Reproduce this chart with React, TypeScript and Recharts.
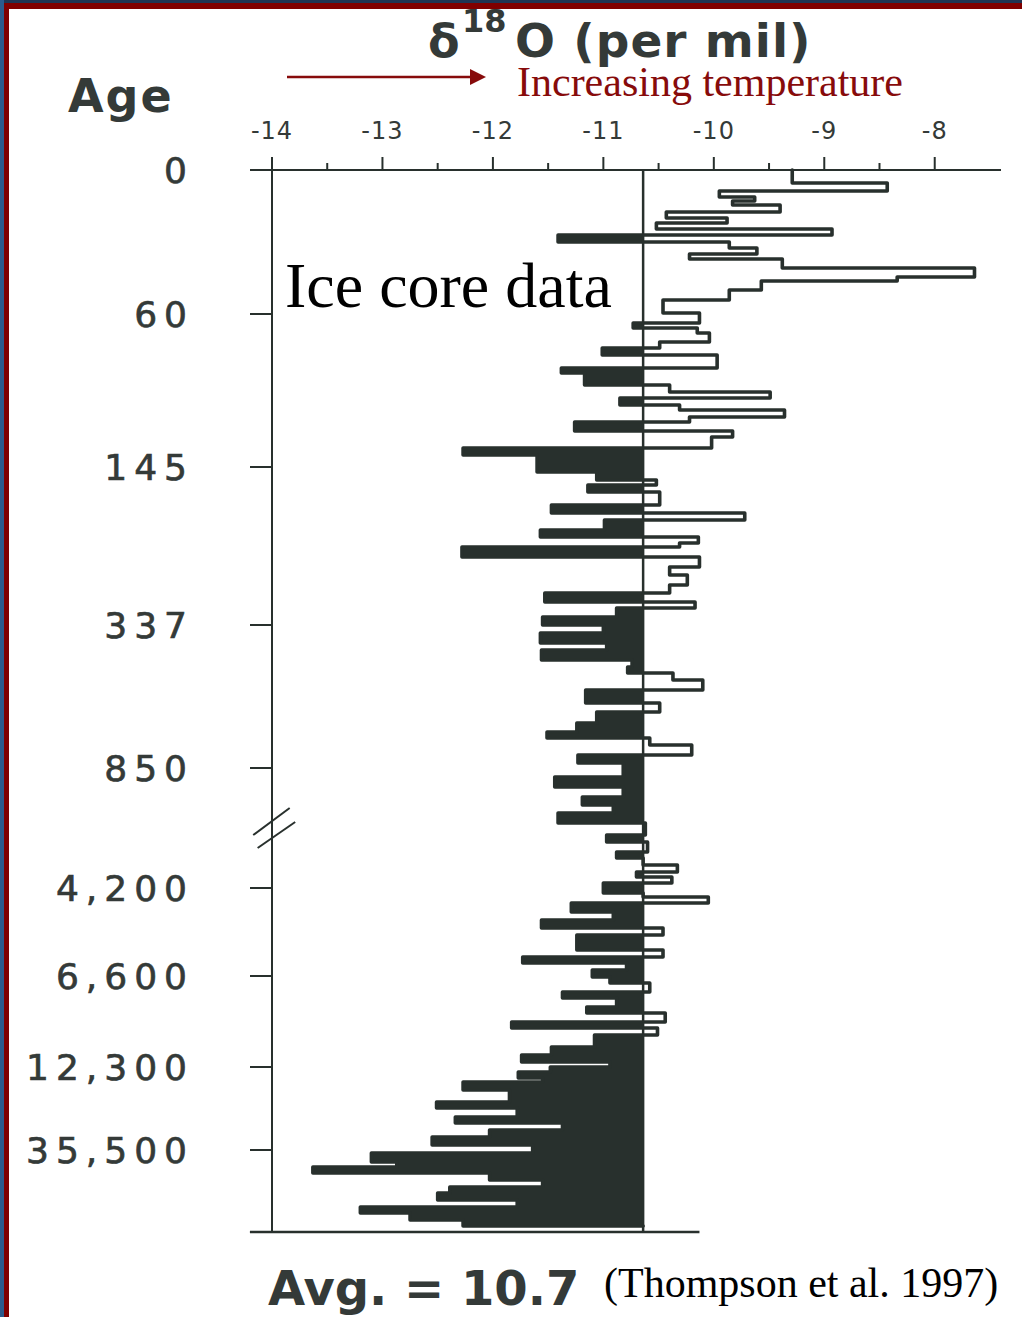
import React from 'react';
import { ComposedChart, Line, Area, XAxis, YAxis, ReferenceLine } from 'recharts';

// core depth (arbitrary units, top = 0) and delta-18O value that holds from that depth down
const DEPTH = [
  0, 13, 21, 27, 31, 35, 42, 48, 53, 59, 65, 72, 78, 84, 89, 98, 107, 111, 120, 130,
  143, 153, 158, 163, 172, 178, 185, 198, 203, 215, 222, 228, 235, 240, 247, 252, 261, 267, 278, 285,
  302, 310, 315, 322, 335, 343, 350, 360, 367, 373, 377, 387, 397, 405, 415, 423, 432, 438, 447, 455,
  463, 473, 480, 490, 497, 503, 510, 520, 533, 542, 553, 562, 568, 575, 585, 593, 607, 617, 627, 635,
  643, 653, 665, 672, 682, 688, 695, 702, 707, 713, 723, 727, 733, 742, 750, 758, 765, 780, 787, 793,
  800, 807, 813, 822, 828, 837, 843, 852, 858, 865, 877, 885, 892, 897, 902, 908, 912, 920, 932, 938,
  947, 953, 960, 967, 975, 983, 992, 997, 1003, 1010, 1017, 1023, 1030, 1037, 1043, 1050, 1056,
];
const D18O = [
  -9.29, -8.43, -9.95, -9.63, -9.83, -9.4, -10.43, -9.88, -10.52, -8.93, -11.41, -9.86, -9.61, -10.22, -9.38, -7.64, -8.34, -9.57, -9.86, -10.46,
  -10.13, -10.73, -10.15, -10.04, -10.49, -11.01, -9.97, -11.38, -11.17, -10.4, -9.49, -10.85, -10.31, -9.36, -10.22, -11.26, -9.83, -10.02, -12.27, -11.6,
  -11.06, -10.52, -11.14, -10.49, -11.47, -9.72, -10.99, -11.57, -10.14, -10.31, -12.28, -10.13, -10.4, -10.24, -10.4, -11.53, -10.17, -10.88, -11.55, -11.0,
  -11.57, -10.97, -11.56, -10.74, -10.78, -10.37, -10.1, -11.16, -10.49, -11.06, -11.24, -11.51, -10.58, -10.2, -11.23, -10.82, -11.44, -10.82, -11.19, -10.91,
  -11.41, -10.62, -10.97, -10.6, -10.88, -10.64, -10.33, -10.7, -10.38, -11.0, -10.64, -10.05, -11.29, -10.91, -11.56, -10.46, -11.24, -10.46, -11.73, -10.79,
  -11.1, -10.94, -10.58, -11.37, -10.88, -11.15, -10.44, -11.83, -10.51, -11.08, -11.47, -11.74, -10.94, -11.48, -11.77, -11.55, -12.27, -11.85, -12.51, -11.78,
  -12.34, -11.37, -12.03, -12.55, -11.64, -13.1, -12.87, -13.63, -12.03, -11.55, -12.39, -12.5, -11.78, -13.2, -12.75, -12.27, -10.64,
];
const MEAN = -10.64;

const AGE_TICKS = [0, 144, 297, 455, 598, 718, 806, 897, 980];
const AGE_LABELS = ['0', '60', '145', '337', '850', '4,200', '6,600', '12,300', '35,500'];
const X_TICKS = [-14, -13.5, -13, -12.5, -12, -11.5, -11, -10.5, -10, -9.5, -9, -8.5, -8];

const INK = '#28302d';
const TEXT = '#343a38';
const RED = '#870b0b';

// vertical step: value holds from its depth down to the next depth
class StepYCurve {
  ctx: any;
  t = 1;
  line: any;
  px = NaN;
  py = NaN;
  pt = 0;
  constructor(ctx: any) {
    this.ctx = ctx;
  }
  areaStart() {
    this.line = 0;
  }
  areaEnd() {
    this.line = NaN;
  }
  lineStart() {
    this.px = NaN;
    this.py = NaN;
    this.pt = 0;
  }
  lineEnd() {
    if (this.line || (this.line !== 0 && this.pt === 1)) this.ctx.closePath();
    if (this.line >= 0) {
      this.t = 1 - this.t;
      this.line = 1 - this.line;
    }
  }
  point(x: number, y: number) {
    x = +x;
    y = +y;
    if (this.pt === 0) {
      this.pt = 1;
      if (this.line) this.ctx.lineTo(x, y);
      else this.ctx.moveTo(x, y);
    } else {
      this.pt = 2;
      if (this.t > 0) {
        this.ctx.lineTo(this.px, y);
        this.ctx.lineTo(x, y);
      } else {
        this.ctx.lineTo(x, this.py);
        this.ctx.lineTo(x, y);
      }
    }
    this.px = x;
    this.py = y;
  }
}
const stepY = (ctx: any) => new StepYCurve(ctx);

const XTick = (props: any) => {
  const { x, y, payload } = props;
  const major = Number.isInteger(payload.value);
  return (
    <g>
      <line x1={x} x2={x} y1={y} y2={y - (major ? 13 : 7)} stroke={INK} strokeWidth={2} />
      {major && (
        <text
          x={x}
          y={y - 31}
          textAnchor="middle"
          fontSize={24}
          letterSpacing={1}
          fill={TEXT}
          fontFamily="DejaVu Sans"
        >
          {String(payload.value)}
        </text>
      )}
    </g>
  );
};

export default function App() {
  const rows = DEPTH.map((d, i) => ({
    depth: d,
    v: D18O[i],
    lo: Math.min(D18O[i], MEAN),
  }));

  return (
    <div
      style={{
        position: 'absolute',
        left: 0,
        top: 0,
        width: 1022,
        height: 1317,
        background: '#fff',
        overflow: 'hidden',
      }}
    >
      <ComposedChart
        width={1022}
        height={1317}
        layout="vertical"
        data={rows}
        margin={{ top: 130, right: 21, bottom: 85, left: 192 }}
      >
        <XAxis
          type="number"
          orientation="top"
          domain={[-14, -7.4]}
          ticks={X_TICKS}
          interval={0}
          height={40}
          tickSize={0}
          tickMargin={0}
          tickLine={false}
          axisLine={{ stroke: INK, strokeWidth: 2 }}
          tick={XTick}
        />
        <YAxis
          type="number"
          dataKey="depth"
          domain={[0, 1062]}
          width={80}
          ticks={AGE_TICKS}
          interval={0}
          tickSize={22}
          tickMargin={56}
          tickFormatter={(v: number) => AGE_LABELS[AGE_TICKS.indexOf(v)] ?? ''}
          tick={{
            fontSize: 36,
            fill: TEXT,
            fontFamily: 'DejaVu Sans',
            letterSpacing: 7,
            stroke: TEXT,
            strokeWidth: 0.7,
          }}
          tickLine={{ stroke: INK, strokeWidth: 2 }}
          axisLine={{ stroke: INK, strokeWidth: 2 }}
        />
        <Area
          dataKey="lo"
          baseValue={MEAN}
          type={stepY as any}
          stroke="none"
          fill={INK}
          fillOpacity={1}
          isAnimationActive={false}
          dot={false}
          activeDot={false}
        />
        <ReferenceLine x={MEAN} stroke={INK} strokeWidth={2.5} />
        <Line
          dataKey="v"
          type={stepY as any}
          stroke={INK}
          strokeWidth={3.6}
          strokeLinejoin="round"
          strokeLinecap="round"
          dot={false}
          activeDot={false}
          isAnimationActive={false}
        />
        <ReferenceLine
          segment={[{ x: -14.15, y: 0 }, { x: -14, y: 0 }]}
          stroke={INK}
          strokeWidth={2}
          ifOverflow="visible"
        />
        <ReferenceLine
          segment={[{ x: -14.2, y: 1062 }, { x: -10.13, y: 1062 }]}
          stroke={INK}
          strokeWidth={2.5}
          ifOverflow="visible"
        />
        <ReferenceLine
          segment={[{ x: -14.17, y: 665 }, { x: -13.84, y: 638 }]}
          stroke={INK}
          strokeWidth={2}
          ifOverflow="visible"
        />
        <ReferenceLine
          segment={[{ x: -14.13, y: 678 }, { x: -13.79, y: 652 }]}
          stroke={INK}
          strokeWidth={2}
          ifOverflow="visible"
        />
      </ComposedChart>

      <svg
        width={1022}
        height={1317}
        style={{ position: 'absolute', left: 0, top: 0, pointerEvents: 'none' }}
      >
        <rect x={0} y={0} width={1022} height={3} fill="#1f3553" />
        <rect x={0} y={3} width={1022} height={6} fill="#800000" />
        <rect x={0} y={0} width={4} height={1317} fill="#2c5b8c" />
        <rect x={4} y={3} width={5} height={1314} fill="#800000" />

        <text x={428} y={57} fontFamily="DejaVu Sans" fontWeight="bold" fontSize={46} fill={TEXT}>
          δ
        </text>
        <text x={462} y={32} fontFamily="DejaVu Sans" fontWeight="bold" fontSize={32} fill={TEXT}>
          18
        </text>
        <text
          x={515}
          y={57}
          fontFamily="DejaVu Sans"
          fontWeight="bold"
          fontSize={47}
          letterSpacing={1}
          fill={TEXT}
        >
          O (per mil)
        </text>

        <line x1={287} y1={77} x2={474} y2={77} stroke={RED} strokeWidth={2.5} />
        <polygon points="470,69 486,77 470,85" fill={RED} />
        <text x={517} y={96} fontFamily="Liberation Serif" fontSize={42} fill={RED}>
          Increasing temperature
        </text>

        <text
          x={68}
          y={112}
          fontFamily="DejaVu Sans"
          fontWeight="bold"
          fontSize={46}
          letterSpacing={2}
          fill={TEXT}
        >
          Age
        </text>

        <text x={285} y={307} fontFamily="Liberation Serif" fontSize={64} fill="#000">
          Ice core data
        </text>

        <text x={268} y={1305} fontFamily="DejaVu Sans" fontWeight="bold" fontSize={48} fill={TEXT}>
          Avg. = 10.7
        </text>
        <text x={604} y={1297} fontFamily="Liberation Serif" fontSize={42} fill="#000">
          (Thompson et al. 1997)
        </text>
      </svg>
    </div>
  );
}
